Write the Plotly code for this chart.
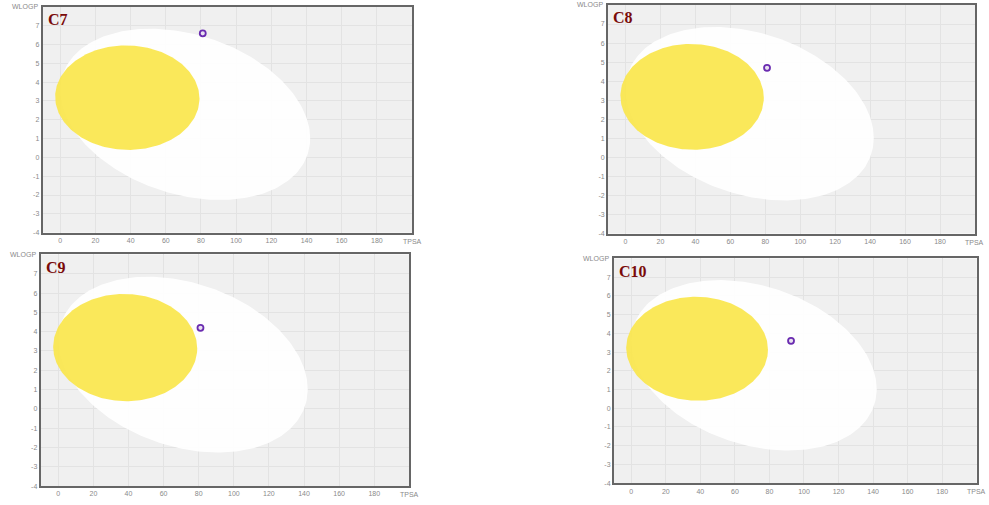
import numpy as np
import plotly.graph_objects as go

# ---- data ----
compounds = ["C7", "C8", "C9", "C10"]
tpsa = [81.0, 81.0, 81.0, 92.5]
wlogp = [6.6, 4.7, 4.2, 3.6]

# BOILED-Egg ellipses: centre (TPSA, WLOGP), full axes, rotation (deg)
hia_center = [71.051, 2.292]
hia_axes = [142.081, 8.740]
hia_angle = -1.031
bbb_center = [38.117, 3.177]
bbb_axes = [82.061, 5.557]
bbb_angle = -0.066

x_ticks = [0, 20, 40, 60, 80, 100, 120, 140, 160, 180]
x_tick_labels = ["0", "20", "40", "60", "80", "100", "120", "140", "160", "180"]
y_ticks = [-4, -3, -2, -1, 0, 1, 2, 3, 4, 5, 6, 7]
y_tick_labels = ["-4", "-3", "-2", "-1", "0", "1", "2", "3", "4", "5", "6", "7"]
x_range = [-10, 200]
y_range = [-4, 8]

# panel placement (paper fractions)
x_domains = [[0.0432, 0.4166], [0.6148, 0.9858], [0.0412, 0.4139], [0.6208, 0.9876]]
y_domains = [[0.5366, 0.9861], [0.5347, 0.9901], [0.0317, 0.4931], [0.0376, 0.4851]]


def ellipse(center, axes, angle_deg, n=240):
    t = np.linspace(0, 2 * np.pi, n)
    th = np.deg2rad(angle_deg)
    a, b = axes[0] / 2, axes[1] / 2
    x = center[0] + a * np.cos(t) * np.cos(th) - b * np.sin(t) * np.sin(th)
    y = center[1] + a * np.cos(t) * np.sin(th) + b * np.sin(t) * np.cos(th)
    return x, y


fig = go.Figure()
hx, hy = ellipse(hia_center, hia_axes, hia_angle)
bx, by = ellipse(bbb_center, bbb_axes, bbb_angle)

tick_font = dict(family="Liberation Sans, Arial, sans-serif", size=7, color="#8a8a8a")

for i, name in enumerate(compounds):
    xa = "x" if i == 0 else f"x{i+1}"
    ya = "y" if i == 0 else f"y{i+1}"
    fig.add_trace(go.Scatter(x=hx, y=hy, xaxis=xa, yaxis=ya, mode="lines",
                             fill="toself", fillcolor="rgba(255,255,255,0.93)",
                             line=dict(width=0), hoverinfo="skip", showlegend=False))
    fig.add_trace(go.Scatter(x=bx, y=by, xaxis=xa, yaxis=ya, mode="lines",
                             fill="toself", fillcolor="rgba(250,229,72,0.9)",
                             line=dict(width=0), hoverinfo="skip", showlegend=False))
    fig.add_trace(go.Scatter(x=[tpsa[i]], y=[wlogp[i]], xaxis=xa, yaxis=ya,
                             mode="markers", showlegend=False,
                             marker=dict(symbol="circle", size=6, color="#e8e0f0",
                                         line=dict(color="#6a2cb0", width=1.8))))

    axis_common = dict(showline=True, mirror=True, linecolor="#666666", linewidth=2,
                       showgrid=True, gridcolor="#e3e3e3", gridwidth=1,
                       zeroline=False, ticks="", tickfont=tick_font, fixedrange=True)
    fig.update_layout(**{
        ("xaxis" if i == 0 else f"xaxis{i+1}"): dict(
            domain=x_domains[i], range=x_range, tickvals=x_ticks,
            ticktext=x_tick_labels, anchor=ya, **axis_common),
        ("yaxis" if i == 0 else f"yaxis{i+1}"): dict(
            domain=y_domains[i], range=y_range, tickvals=y_ticks,
            ticktext=y_tick_labels, anchor=xa, **axis_common),
    })
    # panel label
    fig.add_annotation(text=f"<b>{name}</b>", xref=f"{xa} domain", yref=f"{ya} domain",
                       x=0.008, y=0.99, xanchor="left", yanchor="top", showarrow=False,
                       font=dict(family="Liberation Serif, Times New Roman, serif",
                                 size=16, color="#7a0a0a"))
    # axis names
    fig.add_annotation(text="WLOGP", xref=f"{xa} domain", yref=f"{ya} domain",
                       x=0, y=1, xanchor="right", yanchor="middle", xshift=-3,
                       showarrow=False, font=tick_font)
    fig.add_annotation(text="TPSA", xref=f"{xa} domain", yref=f"{ya} domain",
                       x=1, y=0, xanchor="center", yanchor="top", yshift=-3,
                       showarrow=False, font=tick_font)

fig.update_layout(width=989, height=505, margin=dict(l=0, r=0, t=0, b=0),
                  paper_bgcolor="white", plot_bgcolor="#f0f0f0")

fig.write_html("out.html", config={"displayModeBar": False},
               post_script="document.body.style.margin='0';")
